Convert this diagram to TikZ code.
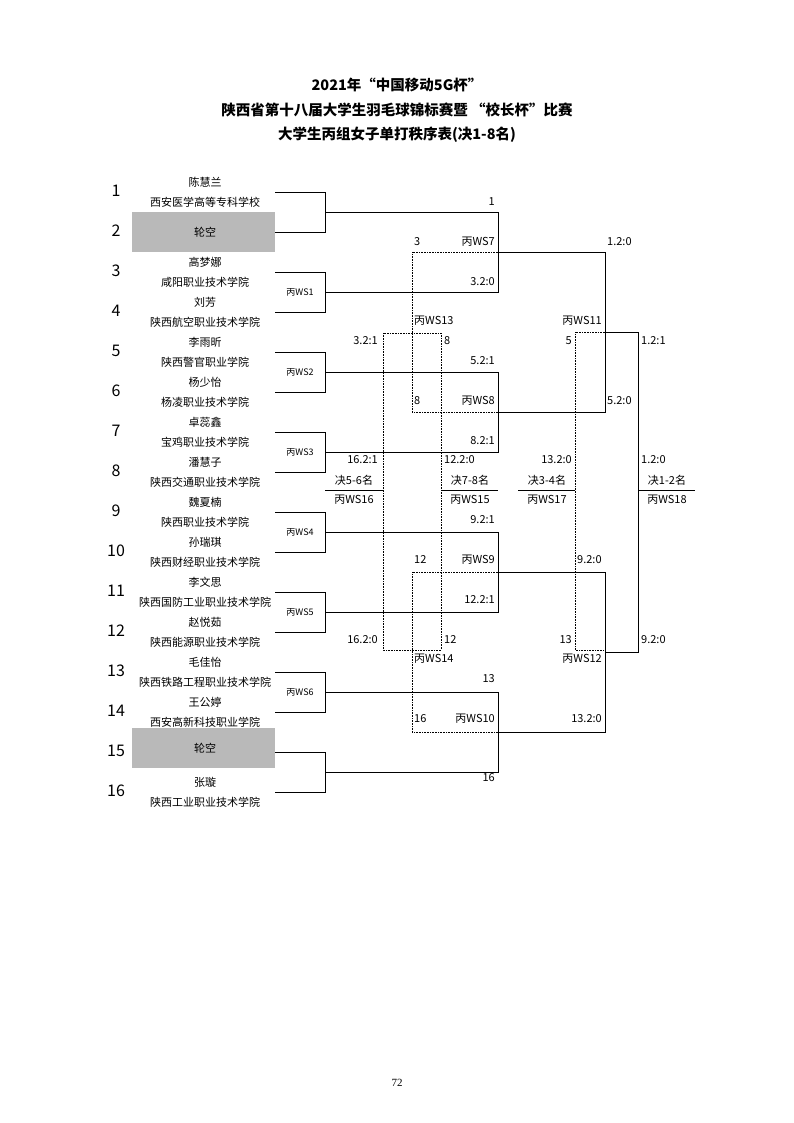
\documentclass[tikz,border=0pt]{standalone}
\usepackage{fontspec}
\setmainfont{Liberation Serif}
\newfontfamily\cjk{Noto Sans CJK SC}
\begin{document}
\begin{tikzpicture}[x=1pt,y=-1pt,
  nm/.style={font=\cjk\fontsize{11}{12}\selectfont,inner sep=0pt},
  num/.style={font=\cjk\fontsize{16}{18}\selectfont,inner sep=0pt},
  lb/.style={font=\cjk\fontsize{11}{12}\selectfont,inner sep=0pt},
  sm/.style={font=\cjk\fontsize{9}{10}\selectfont,inner sep=0pt},
  ln/.style={line width=0.8pt},
  dt/.style={densely dotted,line width=0.6pt}]
\useasboundingbox (0,0) rectangle (794,1123);
\node[font=\cjk\bfseries\fontsize{14.5}{16}\selectfont] (t1) at (397,85) {2021年“中国移动5G杯”};
\node[font=\cjk\bfseries\fontsize{14.5}{16}\selectfont] (t2) at (397,110) {陕西省第十八届大学生羽毛球锦标赛暨 “校长杯”比赛};
\node[font=\cjk\bfseries\fontsize{14.5}{16}\selectfont] (t3) at (397,135) {大学生丙组女子单打秩序表(决1-8名)};
% byes
\fill[gray!55] (132,212) rectangle (275,252);
\fill[gray!55] (132,728) rectangle (275,768);
% players
\foreach \i/\n/\s in {1/陈慧兰/西安医学高等专科学校,3/高梦娜/咸阳职业技术学院,4/刘芳/陕西航空职业技术学院,5/李雨昕/陕西警官职业学院,6/杨少怡/杨凌职业技术学院,7/卓蕊鑫/宝鸡职业技术学院,8/潘慧子/陕西交通职业技术学院,9/魏夏楠/陕西职业技术学院,10/孙瑞琪/陕西财经职业技术学院,11/李文思/陕西国防工业职业技术学院,12/赵悦茹/陕西能源职业技术学院,13/毛佳怡/陕西铁路工程职业技术学院,14/王公婷/西安高新科技职业学院,16/张璇/陕西工业职业技术学院}{
  \node[nm] (n\i) at (205,{182+40*(\i-1)}) {\n};
  \node[nm] (s\i) at (205,{202+40*(\i-1)}) {\s};
}
\node[nm] (b2) at (205,232) {轮空};
\node[nm] (b15) at (205,748) {轮空};
\foreach \i in {1,...,16}{ \node[num] (k\i) at (116,{191+40*(\i-1)}) {\i}; }
% first round brackets
\foreach \k/\w in {0/,1/丙WS1,2/丙WS2,3/丙WS3,4/丙WS4,5/丙WS5,6/丙WS6,7/}{
  \coordinate (a\k) at (275,{192+80*\k});
  \coordinate (m\k) at (325,{212+80*\k});
  \draw[ln] (a\k) -| (325,{232+80*\k}) -- (275,{232+80*\k});
  \node[sm] (w\k) at (300,{212+80*\k}) {\w};
}
% second round
\foreach \p/\q/\o in {0/1/A,2/3/B,4/5/C,6/7/D}{
  \coordinate (r\o) at (498,{(212+80*\p+212+80*\q)/2});
  \draw[ln] (m\p) -- (498,{212+80*\p}) -- (498,{212+80*\q}) -- (m\q);
}
\coordinate (uA) at (605,252); \coordinate (uB) at (605,412);
\coordinate (uC) at (605,572); \coordinate (uD) at (605,732);
\draw[ln] (rA) -- (uA) -- (uB) -- (rB);
\draw[ln] (rC) -- (uC) -- (uD) -- (rD);
\coordinate (fU) at (638,332); \coordinate (fL) at (638,652);
\draw[ln] (605,332) -- (fU) -- (fL) -- (605,652);
\draw[ln] (638,490) -- (695,490);
% place lines
\draw[ln] (325,490) -- (383,490);
\draw[ln] (441,490) -- (498,490);
\draw[ln] (518,490) -- (575,490);
% dotted
\draw[dt] (rA) -- (412,252) -- (412,412) -- (rB);
\draw[dt] (rC) -- (412,572) -- (412,732) -- (rD);
\draw[dt] (383,333) rectangle (441,650);
\draw[dt] (605,332) -- (575,332) -- (575,650) -- (605,650);
% labels right aligned (anchor east)
\foreach \x/\y/\t in {495/202/1,495/242/丙WS7,495/282/3.2:0,602/321/丙WS11,378/341/3.2:1,572/341/5,495/361/5.2:1,495/401/丙WS8,495/441/8.2:1,378/460/16.2:1,572/460/13.2:0,495/520/9.2:1,495/560/丙WS9,495/600/12.2:1,378/640/16.2:0,572/640/13,602/659/丙WS12,495/679/13,495/719/丙WS10,602/719/13.2:0,495/778/16}{
  \node[lb,anchor=east] at (\x,\y) {\t};
}
\foreach \x/\y/\t in {414/242/3,607/242/1.2:0,414/321/丙WS13,444/341/8,641/341/1.2:1,414/401/8,607/401/5.2:0,444/460/12.2:0,641/460/1.2:0,414/560/12,577/560/9.2:0,444/640/12,641/640/9.2:0,414/659/丙WS14,414/719/16}{
  \node[lb,anchor=west] at (\x,\y) {\t};
}
\foreach \x/\t/\u in {354/决5-6名/丙WS16,470/决7-8名/丙WS15,547/决3-4名/丙WS17,667/决1-2名/丙WS18}{
  \node[lb] at (\x,480) {\t};
  \node[lb] at (\x,500) {\u};
}
\node[font=\fontsize{11}{12}\selectfont] (pg) at (397,1083) {72};
\end{tikzpicture}
\end{document}
